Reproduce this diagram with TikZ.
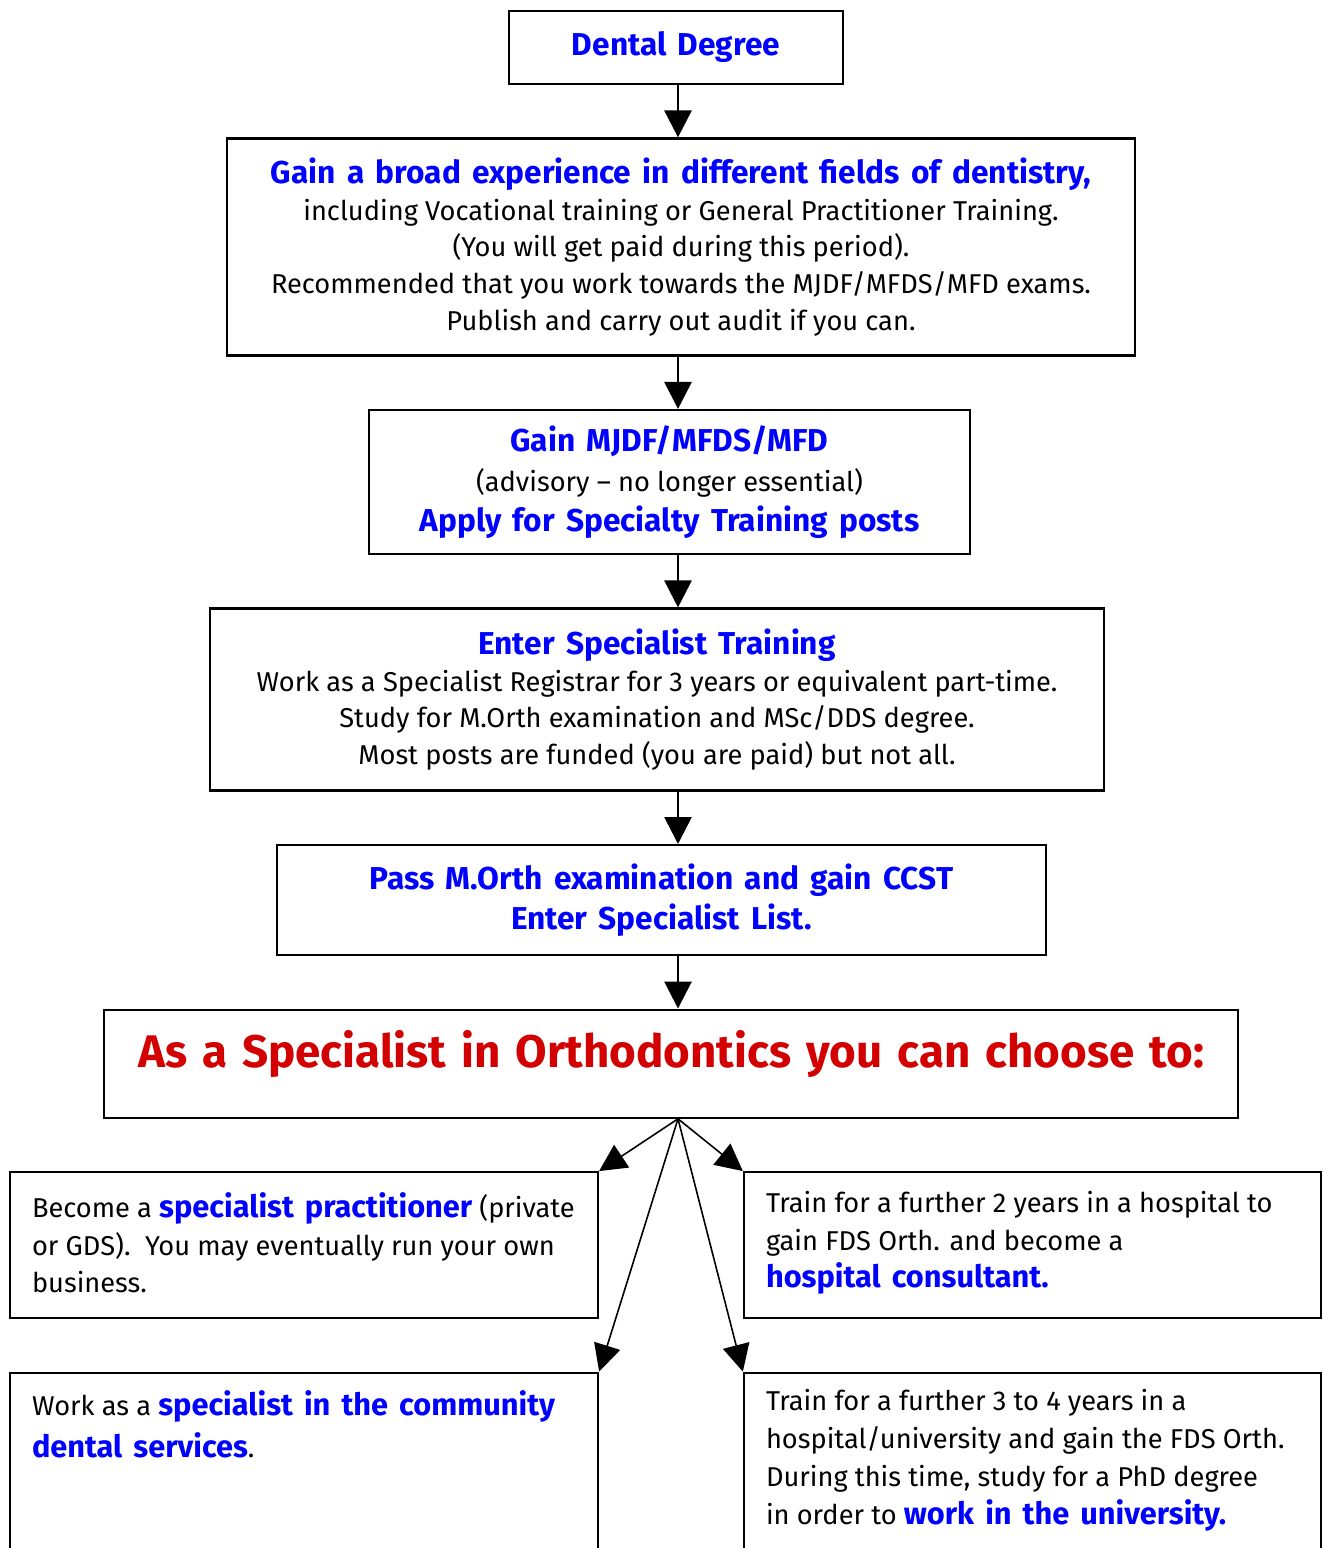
\documentclass[tikz,border=0pt]{standalone}
\usepackage{fontspec}
\setmainfont{Fira Sans}
\usetikzlibrary{positioning,arrows.meta}
\definecolor{headblue}{RGB}{0,0,255}
\definecolor{headred}{RGB}{210,0,0}
\newcommand{\hd}[1]{{\fontsize{17.5}{21}\selectfont\bfseries\spaceskip=0.36em plus 0.1em\color{headblue}#1}}
\newcommand{\bighd}[1]{{\fontsize{18}{21}\selectfont\bfseries\spaceskip=0.36em plus 0.1em\color{headblue}#1}}
\newcommand{\firstline}[1]{\rule{0pt}{#1}}
\tikzset{node distance=1.045cm, auto}
\tikzset{stage/.style={draw, line width=1.3pt, align=center, inner sep=0pt,
                       font=\fontsize{15.5}{21}\selectfont},
         option/.style={draw, line width=1.3pt, inner sep=0pt, anchor=north west,
                        font=\fontsize{15.5}{21.5}\selectfont},
         flow/.style={-{Triangle[length=0.54cm,width=0.54cm]}, line width=1.6pt},
         fan/.style={-{Triangle[length=0.54cm,width=0.54cm]}, line width=0.9pt}}

\begin{document}
\begin{tikzpicture}

  \useasboundingbox (0,0) rectangle (26.48,-30.96);
  \coordinate (spine) at (13.56,0);

  % main stages
  \node (degree) [stage, minimum width=6.68cm, minimum height=1.46cm] at (13.52,-0.95)
        {\bighd{Dental Degree}};

  \node (broad) [stage, minimum width=18.16cm, minimum height=4.34cm, below=of degree, xshift=0.1cm]
        {\bighd{Gain a broad experience in different fields of dentistry,}\\
         including Vocational training or General Practitioner Training.\\
         (You will get paid during this period).\\
         Recommended that you work towards the MJDF/MFDS/MFD exams.\\
         Publish and carry out audit if you can.};

  \node (mjdf) [stage, minimum width=12.02cm, minimum height=2.88cm, below=of broad, xshift=-0.23cm]
        {\bighd{Gain MJDF/MFDS/MFD}\\[2pt]
         (advisory -- no longer essential)\\[2pt]
         \bighd{Apply for Specialty Training posts}};

  \node (training) [stage, minimum width=17.88cm, minimum height=3.64cm, below=of mjdf, xshift=-0.25cm]
        {\bighd{Enter Specialist Training}\\
         Work as a Specialist Registrar for 3 years or equivalent part-time.\\
         Study for M.Orth examination and MSc/DDS degree.\\
         Most posts are funded (you are paid) but not all.};

  \node (ccst) [stage, minimum width=15.38cm, minimum height=2.2cm, below=of training, xshift=0.09cm]
        {\bighd{Pass M.Orth examination and gain CCST}\\[2pt]
         \bighd{Enter Specialist List.}};

  \node (choose) [stage, minimum width=22.68cm, minimum height=2.16cm, below=of ccst, xshift=0.19cm,
                  text depth=0.6cm, font=\fontsize{26}{30}\selectfont\bfseries\color{headred}]
        {\spaceskip=0.33em plus 0.1em As a Specialist in Orthodontics you can choose to:};

  % career options
  \node (practice) [option, minimum width=11.76cm, minimum height=2.92cm,
                    below=of choose.south west, anchor=north west, xshift=-1.88cm]
        {\hspace*{0.44cm}\parbox[c][2.92cm][t]{11.32cm}{\raggedright
         \firstline{0.9cm}Become a \hd{specialist practitioner} (private\\
         or GDS).\ \ You may eventually run your own\\
         business.}};

  \node (consultant) [option, minimum width=11.54cm, minimum height=2.92cm,
                      below=of choose.south east, anchor=north east, xshift=1.66cm]
        {\hspace*{0.44cm}\parbox[c][2.92cm][t]{11.1cm}{\raggedright
         \firstline{0.8cm}Train for a further 2 years in a hospital to\\
         gain FDS Orth. and become a\\
         \hd{hospital consultant.}}};

  \node (community) [option, minimum width=11.76cm, minimum height=4cm,
                     below=of practice.south west, anchor=north west]
        {\hspace*{0.44cm}\parbox[c][4cm][t]{11.32cm}{\raggedright\baselineskip=24pt
         \firstline{0.86cm}Work as a \hd{specialist in the community}\\
         \hd{dental services}.}};

  \node (university) [option, minimum width=11.54cm, minimum height=4cm,
                      below=of consultant.south west, anchor=north west]
        {\hspace*{0.44cm}\parbox[c][4cm][t]{11.1cm}{\raggedright
         \firstline{0.76cm}Train for a further 3 to 4 years in a\\
         hospital/university and gain the FDS Orth.\\
         During this time, study for a PhD degree\\
         in order to \hd{work in the university.}}};

  % connectors
  \draw [flow] (degree.south -| spine) -- (broad.north -| spine);
  \draw [flow] (broad.south -| spine) -- (mjdf.north -| spine);
  \draw [flow] (mjdf.south -| spine) -- (training.north -| spine);
  \draw [flow] (training.south -| spine) -- (ccst.north -| spine);
  \draw [flow] (ccst.south -| spine) -- (choose.north -| spine);

  \draw [fan] (choose.south -| spine) -- (practice.north east);
  \draw [fan] (choose.south -| spine) -- (consultant.north west);
  \draw [fan] (choose.south -| spine) -- (community.north east);
  \draw [fan] (choose.south -| spine) -- (university.north west);

\end{tikzpicture}
\end{document}
